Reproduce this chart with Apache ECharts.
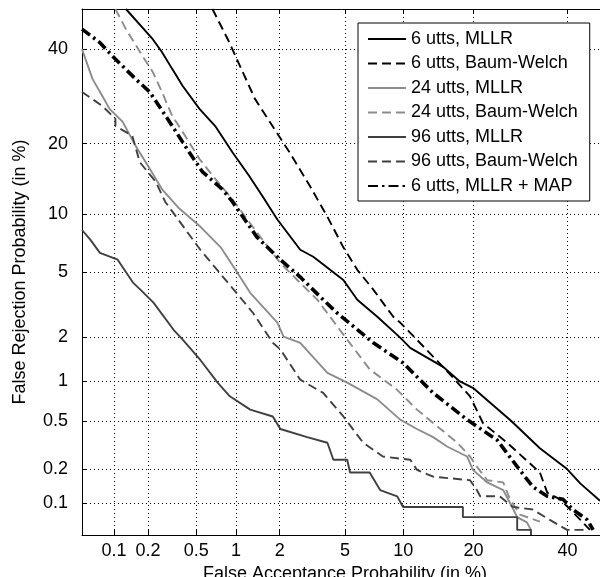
<!DOCTYPE html>
<html>
<head>
<meta charset="utf-8">
<script src="https://cdn.jsdelivr.net/npm/echarts@6/dist/echarts.min.js"></script>
<style>
html,body{margin:0;padding:0;background:#fff;}
#chart{width:600px;height:577px;}
</style>
</head>
<body>
<div id="chart"></div>
<script>
// Tick labels (percent)
const xTicks = [0.1, 0.2, 0.5, 1, 2, 5, 10, 20, 40];
const yTicks = [0.1, 0.2, 0.5, 1, 2, 5, 10, 20, 40];
const axisMinPct = 0.05;
const axisMaxPct = 50;

const seriesNames = ["6 utts, MLLR", "6 utts, Baum-Welch", "24 utts, MLLR", "24 utts, Baum-Welch", "96 utts, MLLR", "96 utts, Baum-Welch", "6 utts, MLLR + MAP"];

// [false acceptance %, false rejection %]
const utts6MLLR = [[0.128,50],[0.22,42.5],[0.263,39.4],[0.32,35.4],[0.39,31.5],[0.53,26.6],[0.70,23.2],[0.94,18.5],[1.24,14.8],[1.53,12.1],[1.93,9.4],[2.71,6.6],[3.26,6.06],[4.89,4.5],[5.84,3.45],[7.45,2.71],[9.68,1.99],[10.8,1.70],[15.1,1.26],[17.7,0.99],[19.9,0.89],[27.2,0.5],[33.5,0.3],[39.9,0.2],[43.1,0.15],[48,0.105]];
const utts6BW = [[0.667,50],[0.89,41.8],[0.99,38.4],[1.36,28.7],[2.33,18.4],[3.13,13.3],[3.96,9.68],[4.89,6.8],[5.84,5.14],[7.1,3.96],[8.96,2.71],[9.68,2.49],[10.8,2.14],[15.1,1.26],[19.4,0.77],[21.7,0.48],[26.4,0.333],[33.5,0.187],[35.2,0.124],[38.2,0.108],[43.1,0.07],[45.5,0.056]];
const utts24MLLR = [[0.05,40.1],[0.063,33.1],[0.078,29.3],[0.091,26.6],[0.12,24.0],[0.156,19.6],[0.207,15.9],[0.263,13.0],[0.366,10.6],[0.54,8.65],[0.77,6.8],[0.96,5.33],[1.26,3.79],[1.93,2.49],[2.12,2.02],[2.71,1.84],[3.96,1.14],[5.14,0.97],[7.45,0.73],[9.68,0.51],[11.6,0.43],[13.7,0.37],[15.7,0.31],[18.9,0.256],[19.9,0.197],[22.5,0.153],[25.6,0.131],[27.0,0.10],[28.5,0.074],[30.6,0.066],[31.5,0.056]];
const utts24BW = [[0.103,50],[0.128,45.0],[0.18,38.4],[0.22,34.7],[0.263,30.2],[0.32,25.2],[0.39,22.1],[0.53,17.4],[0.70,14.4],[0.94,11.7],[1.48,7.7],[2.02,5.6],[2.71,4.33],[3.45,3.45],[4.68,2.23],[6.8,1.21],[9.36,0.86],[11.6,0.61],[13.7,0.48],[17.3,0.333],[19.4,0.256],[20.6,0.21],[22.5,0.16],[25.6,0.153],[27.0,0.108],[29.1,0.078],[33.5,0.067]];
const utts96MLLR = [[0.05,8.34],[0.06,7.45],[0.074,6.36],[0.108,5.84],[0.149,4.33],[0.172,3.96],[0.224,3.30],[0.33,2.23],[0.39,1.93],[0.54,1.40],[0.73,0.97],[0.90,0.77],[1.26,0.61],[1.80,0.54],[2.02,0.43],[2.99,0.37],[3.96,0.333],[4.29,0.24],[5.14,0.24],[5.33,0.187],[6.8,0.187],[7.7,0.131],[9.36,0.115],[9.99,0.092],[18.2,0.092],[18.2,0.074],[28.5,0.074],[28.5,0.056],[31.5,0.056],[31.5,0.05]];
const utts96BW = [[0.05,30.2],[0.078,27.2],[0.103,24.6],[0.103,23.2],[0.146,21.4],[0.17,16.9],[0.233,14.0],[0.28,11.4],[0.54,6.58],[0.96,3.96],[1.32,2.86],[1.80,1.84],[2.02,1.66],[2.71,1.02],[3.74,0.816],[4.89,0.54],[6.28,0.333],[7.95,0.256],[10.8,0.24],[11.6,0.197],[13.7,0.172],[19.4,0.16],[20.6,0.131],[21.2,0.115],[24.9,0.115],[27.6,0.092],[31.9,0.087],[35.8,0.0696],[39.9,0.056],[44.8,0.056]];
const utts6MAP = [[0.05,45.0],[0.073,41.8],[0.103,37.7],[0.156,33.1],[0.207,30.2],[0.305,24.0],[0.44,18.5],[0.56,15.4],[0.79,13.0],[0.94,11.4],[1.40,7.7],[2.02,5.84],[2.71,4.68],[3.74,3.45],[4.51,2.86],[7.1,1.84],[10.0,1.34],[13.7,0.816],[18.9,0.51],[24.4,0.35],[28.5,0.21],[31.9,0.14],[35.2,0.115],[38.9,0.108],[41.3,0.087],[44.8,0.07],[46.3,0.056]];

// Normal deviate (probit) scale used by DET plots
function probit(p) {
  const a=[-3.969683028665376e+01,2.209460984245205e+02,-2.759285104469687e+02,1.383577518672690e+02,-3.066479806614716e+01,2.506628277459239e+00];
  const b=[-5.447609879822406e+01,1.615858368580409e+02,-1.556989798598866e+02,6.680131188771972e+01,-1.328068155288572e+01];
  const c=[-7.784894002430293e-03,-3.223964580411365e-01,-2.400758734003007e+00,-2.549732539343734e+00,4.374664141464968e+00,2.938163982698783e+00];
  const d=[7.784695709041462e-03,3.224671290700398e-01,2.445134137142996e+00,3.754408661907416e+00];
  const pl=0.02425, ph=1-pl;
  let q, r;
  if (p < pl) { q=Math.sqrt(-2*Math.log(p)); return (((((c[0]*q+c[1])*q+c[2])*q+c[3])*q+c[4])*q+c[5])/((((d[0]*q+d[1])*q+d[2])*q+d[3])*q+1); }
  if (p <= ph) { q=p-0.5; r=q*q; return (((((a[0]*r+a[1])*r+a[2])*r+a[3])*r+a[4])*r+a[5])*q/(((((b[0]*r+b[1])*r+b[2])*r+b[3])*r+b[4])*r+1); }
  q=Math.sqrt(-2*Math.log(1-p)); return -(((((c[0]*q+c[1])*q+c[2])*q+c[3])*q+c[4])*q+c[5])/((((d[0]*q+d[1])*q+d[2])*q+d[3])*q+1);
}
const pz = v => probit(v / 100);
const toPts = arr => arr.map(([fa, fr]) => [pz(fa), pz(fr)]);
function labelFor(ticks) {
  return function (val) {
    for (const t of ticks) { if (Math.abs(pz(t) - val) < 1e-6) return String(t); }
    return '';
  };
}

const FONT = "'Liberation Sans', Arial, Helvetica, sans-serif";
const axMin = pz(axisMinPct), axMax = 0;

const styles = [
  {color:'#000000', width:1.9, type:'solid'},
  {color:'#000000', width:1.9, type:[9,5]},
  {color:'#8c8c8c', width:1.9, type:'solid'},
  {color:'#8c8c8c', width:1.9, type:[9,5]},
  {color:'#404040', width:1.9, type:'solid'},
  {color:'#404040', width:1.9, type:[9,5]},
  {color:'#000000', width:3.6, type:[10,4,2.5,4]}
];
const datasets = [utts6MLLR, utts6BW, utts24MLLR, utts24BW, utts96MLLR, utts96BW, utts6MAP];

const chart = echarts.init(document.getElementById('chart'), null, {renderer:'canvas'});
chart.setOption({
  animation: false,
  backgroundColor: '#ffffff',
  textStyle: {fontFamily: FONT},
  grid: {left: 82, top: 9, right: -8, bottom: 42, outerBoundsMode: 'none', containLabel: false, show: false},
  legend: {
    orient: 'vertical', left: 358, top: 23,
    padding: [7, 12, 6, 9], itemGap: 6.5, itemWidth: 38, itemHeight: 14,
    backgroundColor: '#ffffff', borderColor: '#000', borderWidth: 1, borderRadius: 0,
    itemStyle: {opacity: 0, borderWidth: 0},
    textStyle: {fontSize: 18, color: '#000', fontFamily: FONT},
    data: seriesNames
  },
  xAxis: [{
    type: 'value', min: axMin, max: axMax, position: 'bottom',
    name: 'False Acceptance Probability (in %)', nameLocation: 'middle', nameGap: 25,
    nameTextStyle: {fontSize: 18, color: '#000', fontFamily: FONT},
    axisLine: {show: true, onZero: false, lineStyle: {color: '#000', width: 1}},
    axisTick: {show: true, inside: true, length: 5, customValues: xTicks.map(pz), lineStyle: {color: '#000'}},
    axisLabel: {show: true, customValues: xTicks.map(pz), formatter: labelFor(xTicks), fontSize: 18, color: '#000', margin: 7, fontFamily: FONT},
    splitLine: {show: true, lineStyle: {color: '#000', width: 1, type: [1, 3]}}
  }, {
    type: 'value', min: axMin, max: axMax, position: 'top',
    axisLine: {show: true, onZero: false, lineStyle: {color: '#000', width: 1}},
    axisTick: {show: true, inside: true, length: 5, customValues: xTicks.map(pz), lineStyle: {color: '#000'}},
    axisLabel: {show: false},
    splitLine: {show: false}
  }],
  yAxis: [{
    type: 'value', min: axMin, max: axMax, position: 'left',
    name: 'False Rejection Probability (in %)', nameLocation: 'middle', nameGap: 53,
    nameTextStyle: {fontSize: 18, color: '#000', fontFamily: FONT},
    axisLine: {show: true, onZero: false, lineStyle: {color: '#000', width: 1}},
    axisTick: {show: true, inside: true, length: 5, customValues: yTicks.map(pz), lineStyle: {color: '#000'}},
    axisLabel: {show: true, customValues: yTicks.map(pz), formatter: labelFor(yTicks), fontSize: 18, color: '#000', margin: 14, fontFamily: FONT},
    splitLine: {show: true, lineStyle: {color: '#000', width: 1, type: [1, 3]}}
  }],
  series: datasets.map((arr, i) => ({
    name: seriesNames[i], type: 'line', xAxisIndex: 0, yAxisIndex: 0,
    data: toPts(arr), symbol: 'none', showSymbol: false, clip: true,
    lineStyle: styles[i], itemStyle: {color: styles[i].color},
    emphasis: {disabled: true}, z: i === 6 ? 5 : 3
  }))
});
</script>
</body>
</html>
